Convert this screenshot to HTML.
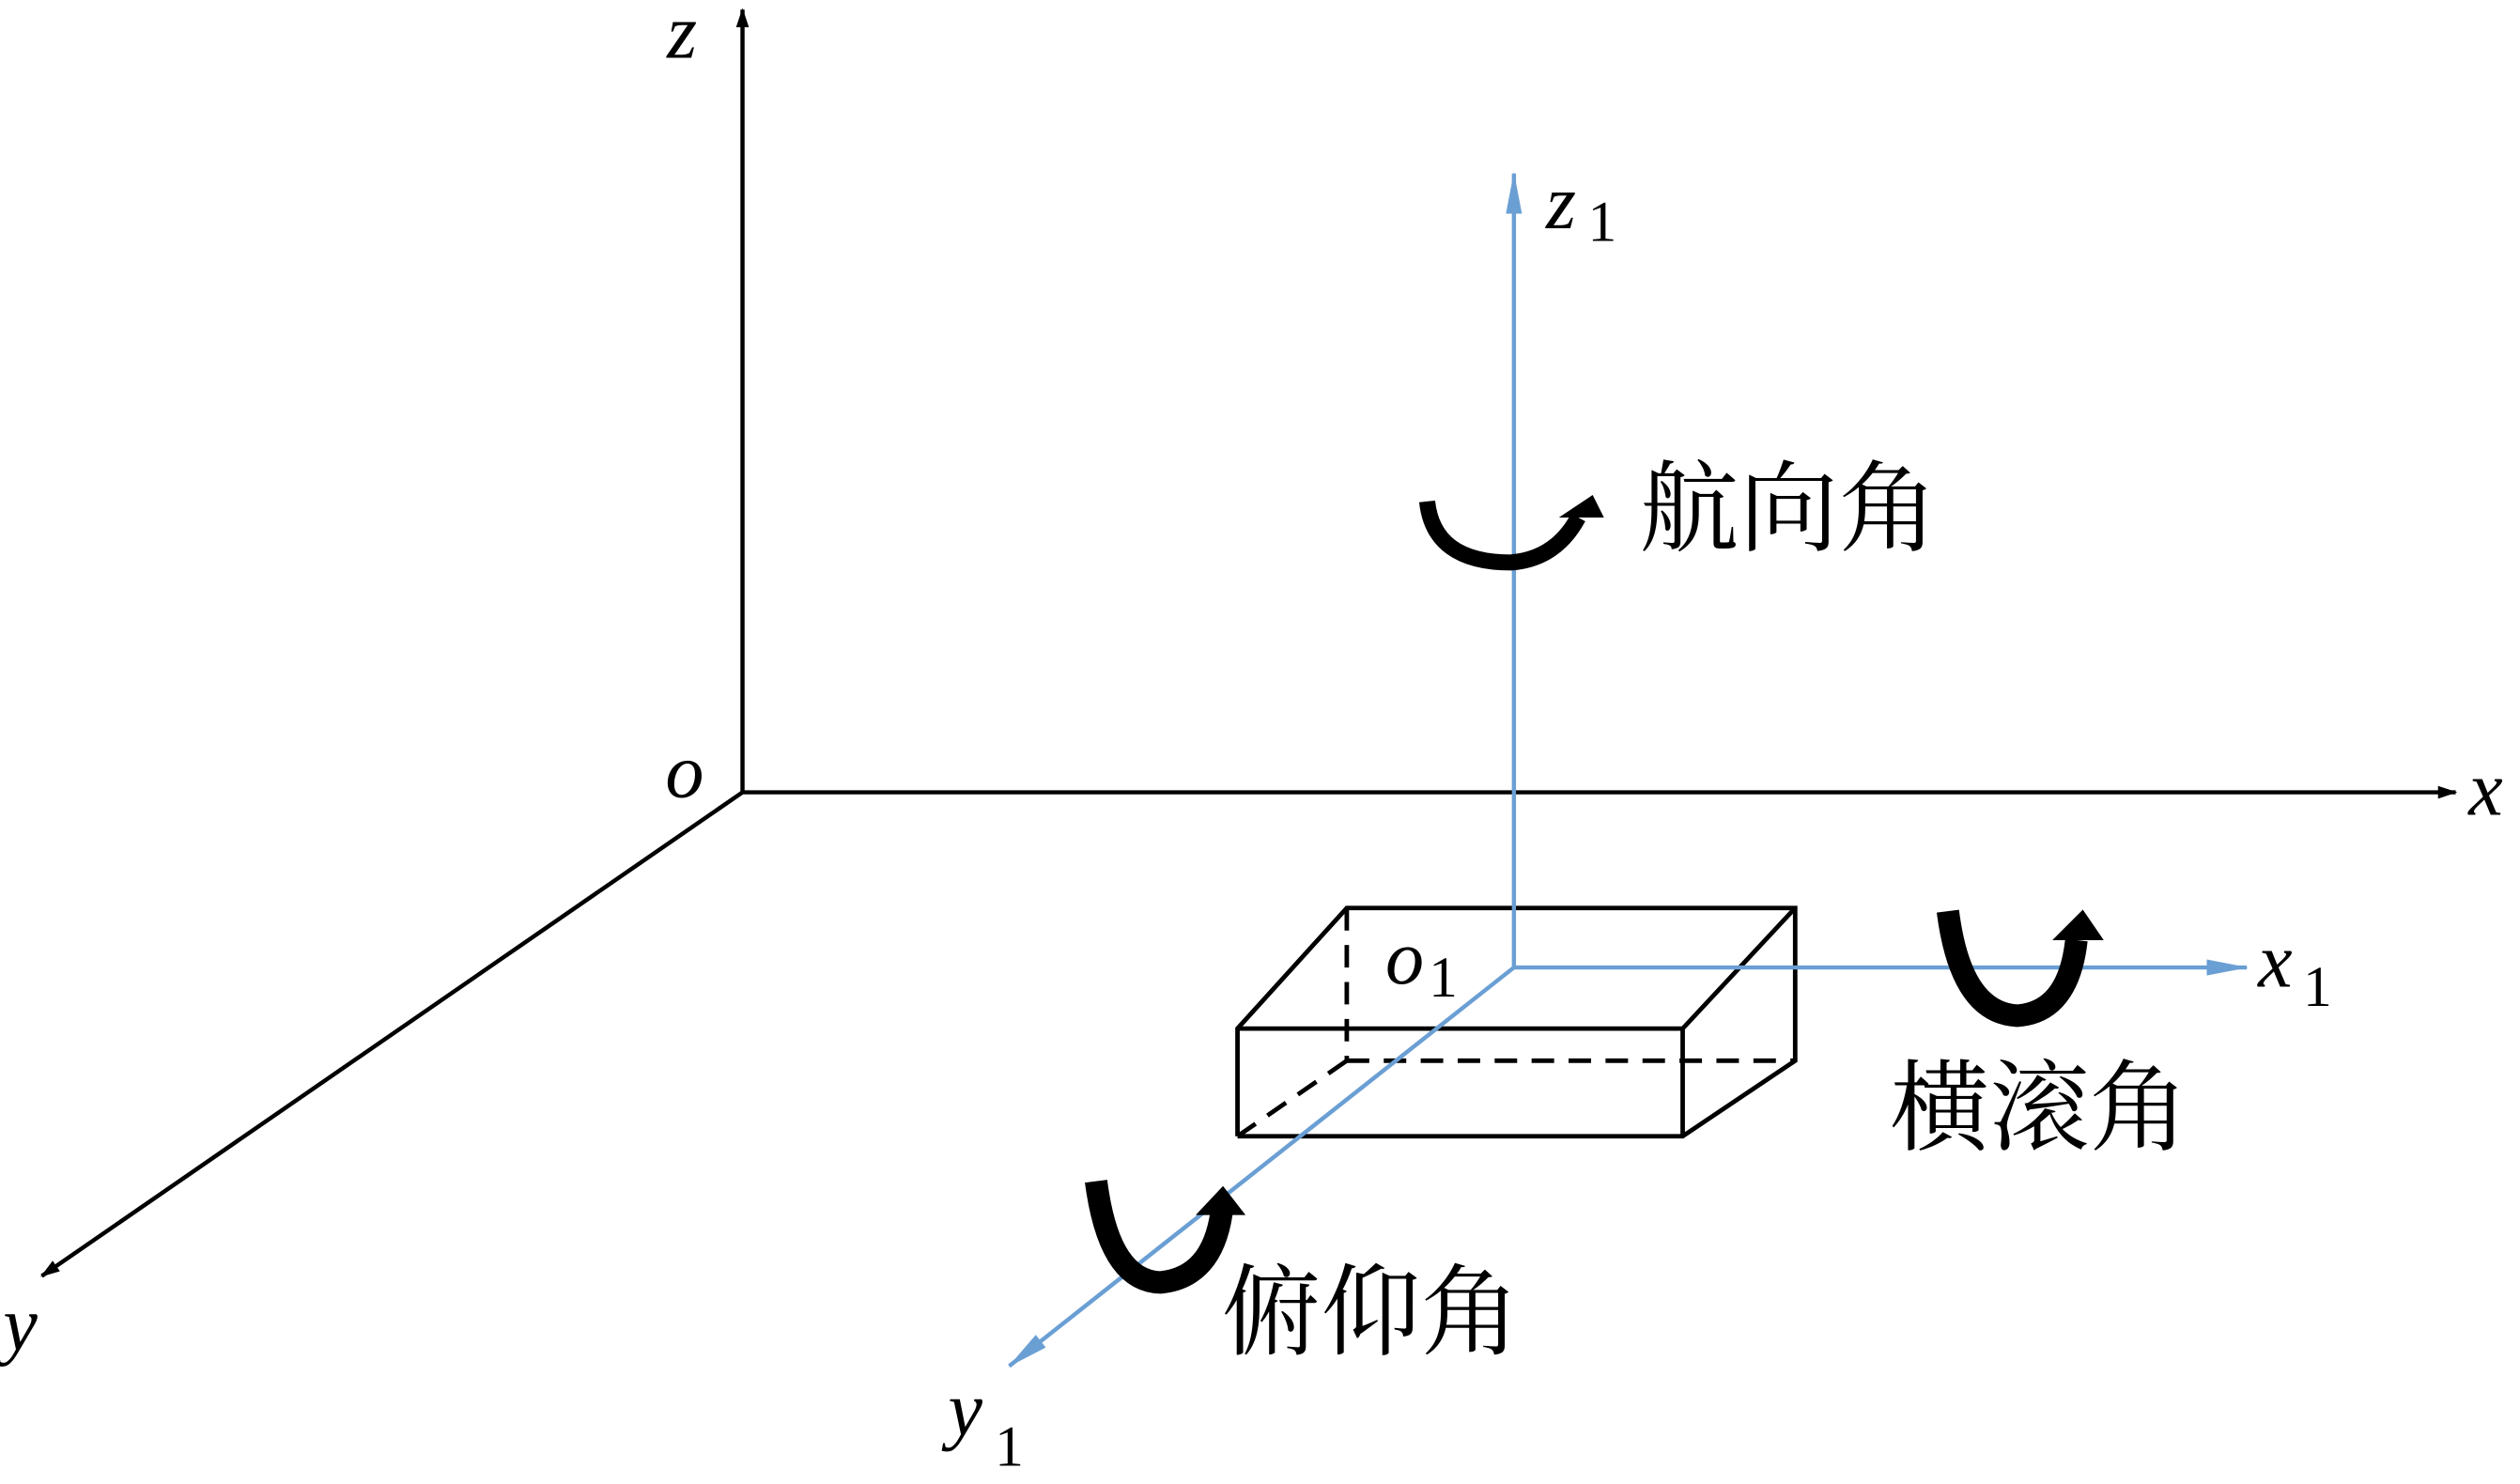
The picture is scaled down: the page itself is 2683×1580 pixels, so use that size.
<!DOCTYPE html>
<html><head><meta charset="utf-8"><style>
html,body{margin:0;padding:0;background:#fff;}
svg{display:block;}
.t{font-family:"Liberation Serif","DejaVu Serif",serif;font-style:italic;fill:#000;}
.n{font-family:"Liberation Serif","DejaVu Serif",serif;fill:#000;}
.c{font-family:"Liberation Serif","Noto Serif CJK SC",serif;fill:#000;}
</style></head><body>
<svg width="2683" height="1580" viewBox="0 0 1568 923.4" preserveAspectRatio="none" xmlns="http://www.w3.org/2000/svg">
<defs>
<marker id="ab" markerWidth="12" markerHeight="8" refX="11" refY="4" orient="auto" markerUnits="userSpaceOnUse"><path d="M0,0 L12,4 L0,8 Z" fill="#000"/></marker>
<marker id="ablue" markerWidth="26" markerHeight="10" refX="25" refY="5" orient="auto" markerUnits="userSpaceOnUse"><path d="M0,0 L26,5 L0,10 Z" fill="#6a9fd4"/></marker>
</defs>
<g stroke="#000" stroke-width="2.6" fill="none">
<line x1="462" y1="493" x2="462" y2="6" marker-end="url(#ab)"/>
<line x1="462" y1="493" x2="1528" y2="493" marker-end="url(#ab)"/>
<line x1="462" y1="493" x2="26" y2="794" marker-end="url(#ab)"/>
</g>
<text class="t" x="415" y="36" font-size="48">z</text>
<text class="t" x="414" y="496" font-size="48">o</text>
<text class="t" x="1536" y="507" font-size="48">x</text>
<text class="t" x="2" y="840" font-size="48">y</text>
<g stroke="#000" stroke-width="2.8" fill="none">
<polyline points="770,707 770,640 838,565 1117,565 1117,660 1047,707 770,707"/>
<polyline points="770,640 1047,640 1117,565"/>
<line x1="1047" y1="640" x2="1047" y2="707"/>
<g stroke-dasharray="14,9">
<line x1="838" y1="565" x2="838" y2="660"/>
<line x1="838" y1="660" x2="1117" y2="660"/>
<line x1="838" y1="660" x2="770" y2="707"/>
</g>
</g>
<g stroke="#6a9fd4" stroke-width="2.6" fill="none">
<line x1="942" y1="602" x2="942" y2="108" marker-end="url(#ablue)"/>
<line x1="942" y1="602" x2="1398" y2="602" marker-end="url(#ablue)"/>
<line x1="942" y1="602" x2="628" y2="850" marker-end="url(#ablue)"/>
</g>
<text class="t" x="962" y="142" font-size="48">z</text><text class="n" x="988" y="150" font-size="36">1</text>
<text class="t" x="862" y="612" font-size="48">o</text><text class="n" x="889" y="620" font-size="36">1</text>
<text class="t" x="1405" y="614" font-size="48">x</text><text class="n" x="1433" y="626" font-size="36">1</text>
<text class="t" x="590" y="893" font-size="48">y</text><text class="n" x="619" y="912" font-size="36">1</text>
<path d="M888,312 Q892,350 940,350 Q968,348 982,322" stroke="#000" stroke-width="10" fill="none"/>
<polygon points="970,322 991,308 998,322" fill="#000"/>
<text class="c" x="1020" y="338" font-size="62">航向角</text>
<path d="M1212,567 Q1220,630 1255,632 Q1287,630 1292,585" stroke="#000" stroke-width="14" fill="none"/>
<polygon points="1277,585 1296,566 1309,585" fill="#000"/>
<text class="c" x="1176" y="711" font-size="62">横滚角</text>
<path d="M682,735 Q690,797 722,798 Q754,795 760,755" stroke="#000" stroke-width="14" fill="none"/>
<polygon points="744,756 761,738 775,756" fill="#000"/>
<text class="c" x="760" y="838" font-size="62">俯仰角</text>
</svg>
</body></html>
